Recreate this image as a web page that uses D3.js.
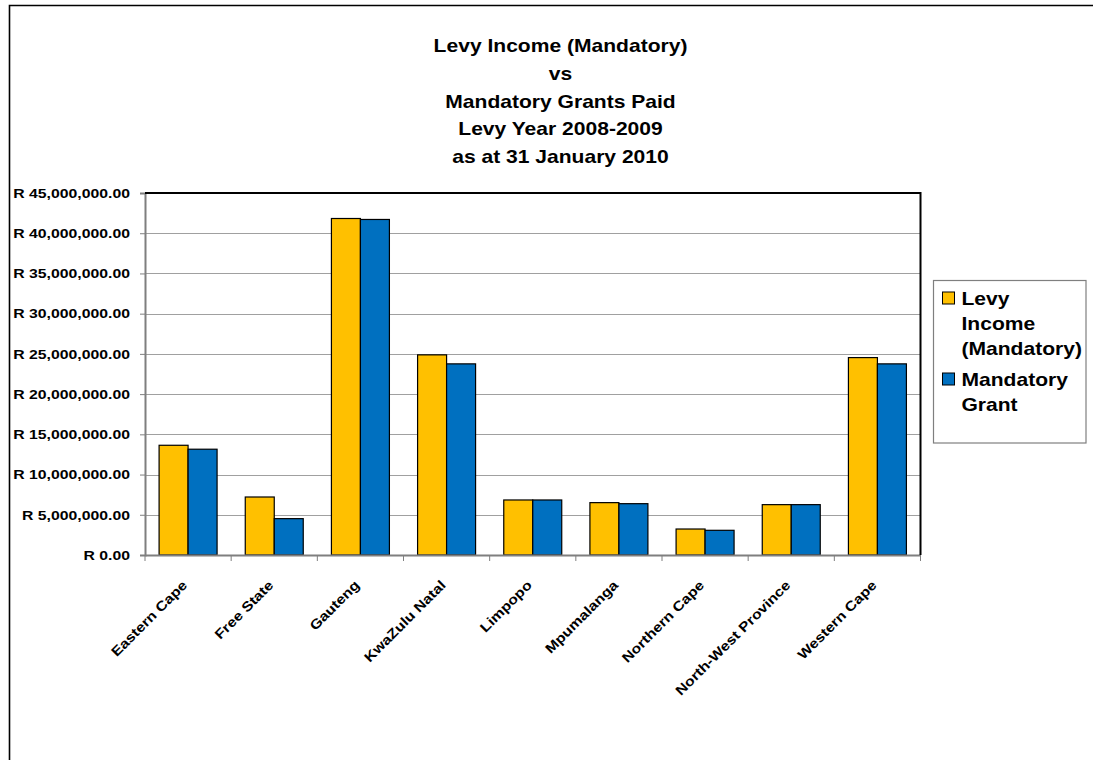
<!DOCTYPE html>
<html>
<head>
<meta charset="utf-8">
<script src="https://cdn.jsdelivr.net/npm/d3@7"></script>
<style>
  html, body { margin: 0; padding: 0; background: #fff; }
  svg { display: block; font-family: "Liberation Sans", Arial, sans-serif; }
</style>
</head>
<body>
<svg id="chart" width="1093" height="760"></svg>
<script>
const titleLines = ["Levy Income (Mandatory)", "vs", "Mandatory Grants Paid", "Levy Year 2008-2009", "as at 31 January 2010"];
const categories = ["Eastern Cape", "Free State", "Gauteng", "KwaZulu Natal", "Limpopo", "Mpumalanga", "Northern Cape", "North-West Province", "Western Cape"];
const seriesNames = ["Levy Income (Mandatory)", "Mandatory Grant"];
const levyIncome = [13640000, 7210000, 41830000, 24880000, 6840000, 6510000, 3230000, 6260000, 24540000];
const mandatoryGrant = [13150000, 4520000, 41710000, 23760000, 6840000, 6380000, 3070000, 6260000, 23760000];
const yTicks = [0, 5000000, 10000000, 15000000, 20000000, 25000000, 30000000, 35000000, 40000000, 45000000];
const legendLines = [["Levy", "Income", "(Mandatory)"], ["Mandatory", "Grant"]];
const colors = ["#FFC000", "#0070C0"];

const SX = 1.17; // horizontal stretch of the original font rendering
const svg = d3.select("#chart");

// outer frame
svg.append("path").attr("d", "M9.5,760 L9.5,5.5 L1093,5.5")
  .attr("fill", "none").attr("stroke", "#000").attr("stroke-width", 1.6);

// title
svg.append("g").selectAll("text").data(titleLines).join("text")
  .attr("transform", (d, i) => `translate(560.5,${52 + i * 27.8}) scale(${SX},1)`)
  .attr("text-anchor", "middle").attr("font-weight", "bold").attr("font-size", 18).attr("fill", "#000")
  .text(d => d);

const pLeft = 145, pRight = 920.5, pTop = 193, pBottom = 555;

const x = d3.scaleBand().domain(categories).range([pLeft, pRight]).paddingInner(0).paddingOuter(0);
const xs = d3.scaleBand().domain([0, 1]).range([0, x.bandwidth()]).paddingInner(0).paddingOuter(0.486);
const y = d3.scaleLinear().domain([0, 45000000]).range([pBottom, pTop]);

// gridlines
svg.append("g").selectAll("line").data(yTicks.filter(d => d > 0)).join("line")
  .attr("x1", pLeft).attr("x2", pRight)
  .attr("y1", d => Math.round(y(d)) + 0.5).attr("y2", d => Math.round(y(d)) + 0.5)
  .attr("stroke", "#a0a0a0").attr("stroke-width", 1);

// y axis
const fmt = d => "R " + d3.format(",.2f")(d);
const yAxis = d3.axisLeft(y).tickValues(yTicks).tickFormat(fmt).tickSize(5).tickPadding(10);
const gy = svg.append("g").attr("transform", `translate(${pLeft},0)`).call(yAxis);
gy.select(".domain").attr("stroke", "#7f7f7f").attr("stroke-width", 2);
gy.selectAll(".tick line").attr("stroke", "#7f7f7f");
gy.selectAll(".tick text").attr("font-size", 13.5).attr("font-weight", "bold")
  .attr("font-family", "'Liberation Sans', Arial, sans-serif").attr("fill", "#000")
  .attr("x", 0).attr("transform", `translate(-15,0) scale(${SX},1)`);

// bars
const data = categories.map((c, i) => ({ c, v: [levyIncome[i], mandatoryGrant[i]] }));
const groups = svg.append("g").selectAll("g").data(data).join("g")
  .attr("transform", d => `translate(${x(d.c)},0)`);
groups.selectAll("rect").data(d => d.v.map((v, k) => ({ v, k }))).join("rect")
  .attr("x", d => xs(d.k)).attr("width", xs.bandwidth())
  .attr("y", d => y(d.v)).attr("height", d => pBottom - y(d.v))
  .attr("fill", d => colors[d.k]).attr("stroke", "#000").attr("stroke-width", 1.2);

// x axis
const xAxis = d3.axisBottom(x).tickSize(0).tickFormat("");
const gx = svg.append("g").attr("transform", `translate(0,${pBottom})`).call(xAxis);
gx.select(".domain").attr("stroke", "#7f7f7f").attr("stroke-width", 2);
// boundary ticks
svg.append("g").selectAll("line").data(d3.range(categories.length + 1)).join("line")
  .attr("x1", i => pLeft + i * x.step()).attr("x2", i => pLeft + i * x.step())
  .attr("y1", pBottom).attr("y2", pBottom + 6)
  .attr("stroke", "#7f7f7f").attr("stroke-width", 1);

// x labels
svg.append("g").selectAll("text").data(categories).join("text")
  .attr("transform", d => `translate(${x(d) + x.bandwidth() / 2},${pBottom + 31}) rotate(-45) scale(${SX},1)`)
  .attr("text-anchor", "end").attr("font-size", 13.5).attr("font-weight", "bold").attr("fill", "#000")
  .text(d => d);

// plot frame top & right
svg.append("path").attr("d", `M${pLeft},${pTop} L${pRight},${pTop} L${pRight},${pBottom}`)
  .attr("fill", "none").attr("stroke", "#000").attr("stroke-width", 2);

// legend
const lg = svg.append("g");
lg.append("rect").attr("x", 933.5).attr("y", 280.5).attr("width", 152.5).attr("height", 162.5)
  .attr("fill", "#fff").attr("stroke", "#7f7f7f").attr("stroke-width", 1.2);
let ly = 305;
seriesNames.forEach((s, k) => {
  lg.append("rect").attr("x", 942.5).attr("y", ly - 13).attr("width", 12).attr("height", 12)
    .attr("fill", colors[k]).attr("stroke", "#000").attr("stroke-width", 1);
  legendLines[k].forEach((line, j) => {
    lg.append("text").attr("transform", `translate(961.5,${ly + j * 25}) scale(${SX},1)`)
      .attr("font-size", 18).attr("font-weight", "bold").attr("fill", "#000").text(line);
  });
  ly += legendLines[k].length * 25 + 6;
});
</script>
</body>
</html>
